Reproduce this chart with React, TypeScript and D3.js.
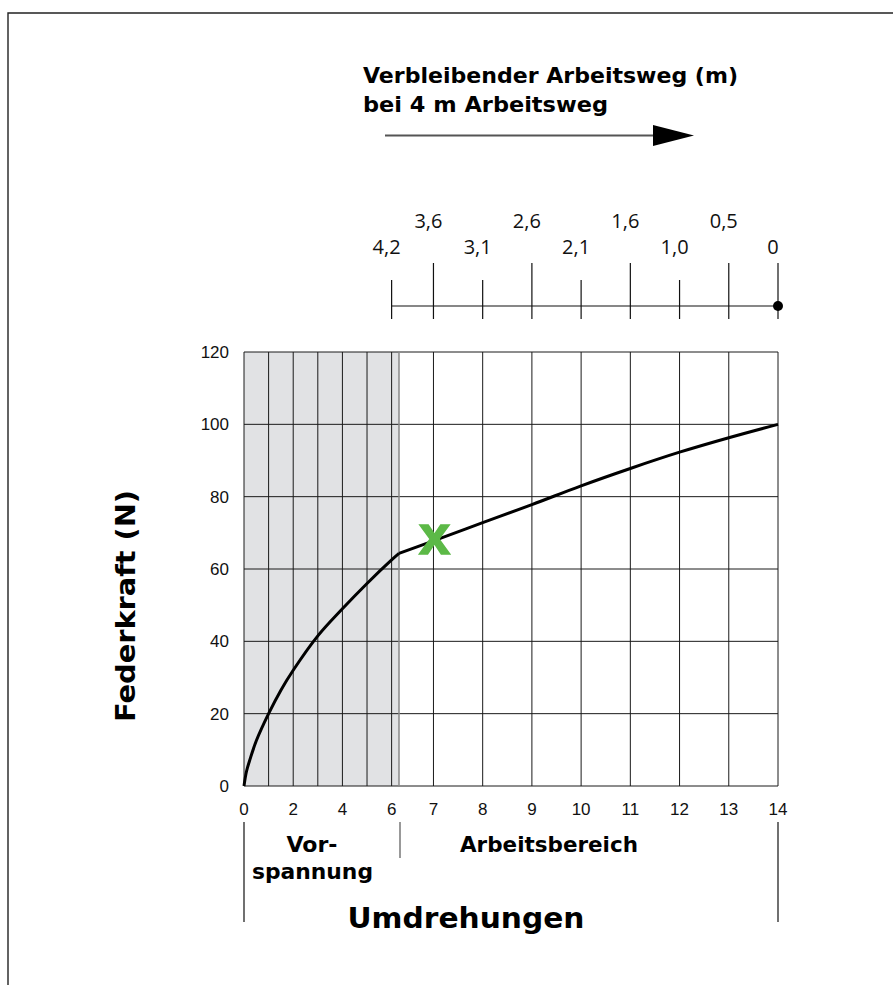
import React from 'react';
import * as d3 from 'd3';

// Federkraft über Umdrehungen
const yTicks = [0, 20, 40, 60, 80, 100, 120];
const xTicks = [0, 2, 4, 6, 7, 8, 9, 10, 11, 12, 13, 14];
const gridTurns = [0, 1, 2, 3, 4, 5, 6, 7, 8, 9, 10, 11, 12, 13, 14];
const preloadEnd = 6.3;

const preTurns = [0, 0.1, 0.25, 0.5, 1, 1.5, 2, 3, 4, 5, 6, 6.3];
const preForce = [0, 4, 7.5, 12.5, 20, 26.5, 32, 41.5, 49, 56, 62.5, 64.3];
const workTurns = [6.3, 7, 8, 9, 10, 11, 12, 13, 14];
const workForce = [64.3, 67.8, 72.8, 77.8, 83, 87.8, 92.3, 96.3, 100];

// remaining working distance (m) on the top scale
const topTurns = [6, 7, 8, 9, 10, 11, 12, 13, 14];
const topLabels = ['4,2', '3,6', '3,1', '2,6', '2,1', '1,6', '1,0', '0,5', '0'];
const topUpper = [false, true, false, true, false, true, false, true, false];

const marker = { turn: 7, force: 68.5, label: 'x' };

const W = 893;
const H = 985;

const bold = "'DejaVu Sans', Verdana, sans-serif";
const arial = "'Liberation Sans', Arial, sans-serif";
const sans = "'Open Sans', 'Noto Sans', sans-serif";

export default function App() {
  // piecewise: pre-load region drawn at half scale
  const x = d3.scaleLinear().domain([0, preloadEnd, 14]).range([244, 399, 778]);
  const y = d3.scaleLinear().domain([0, 120]).range([786, 352]);

  const line = d3
    .line<[number, number]>()
    .x((d) => x(d[0]))
    .y((d) => y(d[1]))
    .curve(d3.curveCatmullRom.alpha(0.5));

  const prePath = line(preTurns.map((t, i) => [t, preForce[i]]))!;
  const workPath = line(workTurns.map((t, i) => [t, workForce[i]]))!;

  const x0 = x(0);
  const x14 = x(14);
  const topY = 306;

  return (
    <div style={{ position: 'absolute', left: 0, top: 0 }}>
      <svg width={W} height={H} style={{ display: 'block', background: '#fff' }}>
        {/* frame */}
        <path d={`M8,${H} L8,13 L${W},13`} fill="none" stroke="#222" strokeWidth={1.4} />

        {/* title + arrow */}
        <text x={363} y={83} fontFamily={bold} fontWeight="bold" fontSize={21} textLength={375} lengthAdjust="spacingAndGlyphs">
          Verbleibender Arbeitsweg (m)
        </text>
        <text x={363} y={112} fontFamily={bold} fontWeight="bold" fontSize={21} textLength={245} lengthAdjust="spacingAndGlyphs">
          bei 4 m Arbeitsweg
        </text>
        <line x1={385} x2={656} y1={135.5} y2={135.5} stroke="#555" strokeWidth={1.8} />
        <polygon points="653,125 694,135.5 653,146" fill="#000" />

        {/* top scale */}
        <line x1={x(topTurns[0])} x2={x14} y1={topY} y2={topY} stroke="#111" strokeWidth={1.2} />
        {topTurns.map((t, i) => {
          const tall = topUpper[i] || i === topTurns.length - 1;
          return (
            <g key={'top' + i}>
              <line x1={x(t)} x2={x(t)} y1={tall ? 263 : 280} y2={319} stroke="#111" strokeWidth={1.2} />
              <text
                x={x(t) - 5}
                y={topUpper[i] ? 228 : 254}
                textAnchor="middle"
                fontFamily={sans}
                fontSize={20}
                fill="#111"
              >
                {topLabels[i]}
              </text>
            </g>
          );
        })}
        <circle cx={x14} cy={topY} r={5} fill="#000" />

        {/* shaded pre-load area */}
        <rect x={x0} y={y(120)} width={x(preloadEnd) - x0} height={y(0) - y(120)} fill="#e1e2e4" />

        {/* grid */}
        {yTicks.map((v) => (
          <line key={'h' + v} x1={x0} x2={x14} y1={y(v)} y2={y(v)} stroke="#1a1a1a" strokeWidth={1} />
        ))}
        {gridTurns.map((t) => (
          <line key={'v' + t} x1={x(t)} x2={x(t)} y1={y(120)} y2={y(0)} stroke="#1a1a1a" strokeWidth={1} />
        ))}
        <line x1={x(preloadEnd)} x2={x(preloadEnd)} y1={y(120)} y2={y(0)} stroke="#888" strokeWidth={1.5} />

        {/* curve */}
        <path d={prePath} fill="none" stroke="#000" strokeWidth={3} strokeLinejoin="round" />
        <path d={workPath} fill="none" stroke="#000" strokeWidth={3} strokeLinejoin="round" />

        {/* marker */}
        <text
          x={x(marker.turn) + 1}
          y={y(marker.force) + 16}
          textAnchor="middle"
          fontFamily={arial}
          fontWeight="bold"
          fontSize={56}
          fill="#5cb947"
          stroke="#5cb947"
          strokeWidth={1.5}
        >
          {marker.label}
        </text>

        {/* y tick labels */}
        {yTicks.map((v) => (
          <text key={'yl' + v} x={229} y={y(v) + 6} textAnchor="end" fontFamily={arial} fontSize={17} fill="#111">
            {v}
          </text>
        ))}
        {/* x tick labels */}
        {xTicks.map((t) => (
          <text key={'xl' + t} x={x(t)} y={815} textAnchor="middle" fontFamily={arial} fontSize={17} fill="#111">
            {t}
          </text>
        ))}

        {/* y axis title */}
        <text
          transform="translate(135,606) rotate(-90)"
          textAnchor="middle"
          fontFamily={bold}
          fontWeight="bold"
          fontSize={26}
          textLength={232}
          lengthAdjust="spacingAndGlyphs"
        >
          Federkraft (N)
        </text>

        {/* range brackets */}
        <line x1={x0} x2={x0} y1={822} y2={922} stroke="#111" strokeWidth={1.2} />
        <line x1={x14} x2={x14} y1={822} y2={922} stroke="#111" strokeWidth={1.2} />
        <line x1={x(preloadEnd) + 1} x2={x(preloadEnd) + 1} y1={822} y2={858} stroke="#777" strokeWidth={1.5} />

        <text x={312} y={852} textAnchor="middle" fontFamily={bold} fontWeight="bold" fontSize={22} textLength={51} lengthAdjust="spacingAndGlyphs">
          Vor-
        </text>
        <text x={312.5} y={879} textAnchor="middle" fontFamily={bold} fontWeight="bold" fontSize={22} textLength={121} lengthAdjust="spacingAndGlyphs">
          spannung
        </text>
        <text x={549} y={852} textAnchor="middle" fontFamily={bold} fontWeight="bold" fontSize={22} textLength={178} lengthAdjust="spacingAndGlyphs">
          Arbeitsbereich
        </text>
        <text x={466} y={928} textAnchor="middle" fontFamily={bold} fontWeight="bold" fontSize={29} textLength={237} lengthAdjust="spacingAndGlyphs">
          Umdrehungen
        </text>
      </svg>
    </div>
  );
}
